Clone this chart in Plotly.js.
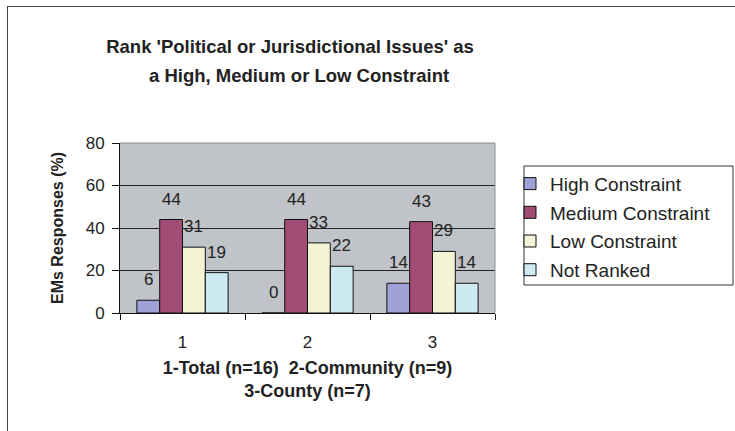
<!DOCTYPE html>
<html>
<head>
<meta charset="utf-8">
<script src="https://cdn.plot.ly/plotly-3.0.1.min.js"></script>
<style>
  html, body { margin: 0; padding: 0; background: #fff; }
  #chart { position: absolute; left: 0; top: 0; width: 735px; height: 431px; }
  #frame { position: absolute; left: 7px; top: 6px; width: 760px; height: 460px;
           border: 1px solid #444; pointer-events: none; }
</style>
</head>
<body>
<div id="chart"></div>
<div id="frame"></div>
<script>
const categories = ['1', '2', '3'];
const seriesNames = ['High Constraint', 'Medium Constraint', 'Low Constraint', 'Not Ranked'];
const highValues = [6, 0, 14];
const mediumValues = [44, 44, 43];
const lowValues = [31, 33, 29];
const notRankedValues = [19, 22, 14];
const yTicks = [0, 20, 40, 60, 80];
const titleLines = ["Rank 'Political or Jurisdictional Issues' as", 'a High, Medium or Low Constraint'];
const xTitleText = '1-Total (n=16)  2-Community (n=9)<br>3-County (n=7)';
const yTitleText = 'EMs Responses (%)';

const seriesValues = [highValues, mediumValues, lowValues, notRankedValues];
const colors = ['#9ea2d6', '#a04c74', '#f5f3d5', '#cde9f2'];
const bargap = 0.27;

const sans = 'Liberation Sans, Arial, sans-serif';

const traces = seriesValues.map((vals, i) => ({
  type: 'bar',
  name: seriesNames[i],
  x: categories,
  y: vals,
  legendgroup: 'g' + i,
  marker: { color: colors[i], line: { color: '#111', width: 1 } },
  hoverinfo: 'skip'
}));

// data labels placed above each bar from the data
const annotations = [];
const nS = seriesValues.length;
const w = (1 - bargap) / nS;
seriesValues.forEach((vals, j) => {
  vals.forEach((v, k) => {
    annotations.push({
      x: k + (j - (nS - 1) / 2) * w,
      y: v,
      xref: 'x', yref: 'y',
      text: String(v),
      showarrow: false,
      yanchor: 'bottom',
      xanchor: 'center',
      yshift: 9,
      font: { family: sans, size: 17, color: '#222' }
    });
  });
});

// second line of the chart title
annotations.push({
  xref: 'paper', yref: 'paper',
  x: 0.4773, y: 1.4,
  xanchor: 'center', yanchor: 'middle',
  showarrow: false,
  text: titleLines[1],
  font: { family: sans, size: 18.5, color: '#222', weight: 'bold' }
});

const layout = {
  width: 735,
  height: 431,
  margin: { l: 120, r: 240, t: 143, b: 118 },
  paper_bgcolor: '#ffffff',
  plot_bgcolor: '#c0c3c8',
  barmode: 'group',
  bargap: bargap,
  bargroupgap: 0,
  showlegend: true,
  title: {
    text: titleLines[0],
    font: { family: sans, size: 18.5, color: '#222', weight: 'bold' },
    xref: 'container', yref: 'container',
    x: 0.3946, xanchor: 'center',
    y: 0.893, yanchor: 'middle'
  },
  xaxis: {
    type: 'category',
    tickson: 'boundaries',
    ticks: 'outside',
    ticklen: 6,
    tickcolor: '#111',
    showline: true,
    linecolor: '#111',
    linewidth: 1,
    showgrid: false,
    tickfont: { family: sans, size: 17, color: '#222' },
    ticklabelstandoff: 14,
    title: {
      text: xTitleText,
      font: { family: sans, size: 18, color: '#222', weight: 'bold' },
      standoff: 9
    },
    fixedrange: true
  },
  yaxis: {
    range: [0, 80],
    tickvals: yTicks,
    ticks: 'outside',
    ticklen: 7,
    tickcolor: '#111',
    showline: true,
    linecolor: '#111',
    linewidth: 1,
    showgrid: true,
    gridcolor: '#222',
    gridwidth: 1,
    zeroline: false,
    tickfont: { family: sans, size: 17, color: '#222' },
    ticklabelstandoff: 4,
    title: {
      text: yTitleText,
      font: { family: sans, size: 16, color: '#222', weight: 'bold' },
      standoff: 18
    },
    fixedrange: true
  },
  legend: {
    x: 1.04, xanchor: 'left', xref: 'paper',
    y: 0.872, yanchor: 'top', yref: 'paper',
    bgcolor: 'rgba(0,0,0,0)',
    borderwidth: 0,
    font: { family: sans, size: 19, color: '#222' },
    tracegroupgap: 1,
    traceorder: 'grouped'
  },
  shapes: [
    { type: 'line', xref: 'paper', yref: 'paper', x0: 0, x1: 1, y0: 1, y1: 1,
      line: { color: '#8a8a8a', width: 1 }, layer: 'above' },
    { type: 'line', xref: 'paper', yref: 'paper', x0: 1, x1: 1, y0: 0, y1: 1,
      line: { color: '#8a8a8a', width: 1 }, layer: 'above' },
    { type: 'rect', xref: 'paper', yref: 'paper', x0: 1.0773, x1: 1.6347, y0: 0.1647, y1: 0.8647,
      line: { color: '#333', width: 1 }, fillcolor: 'rgba(0,0,0,0)', layer: 'above' }
  ],
  annotations: annotations
};

Plotly.newPlot('chart', traces, layout, { displayModeBar: false, staticPlot: true });
</script>
</body>
</html>
